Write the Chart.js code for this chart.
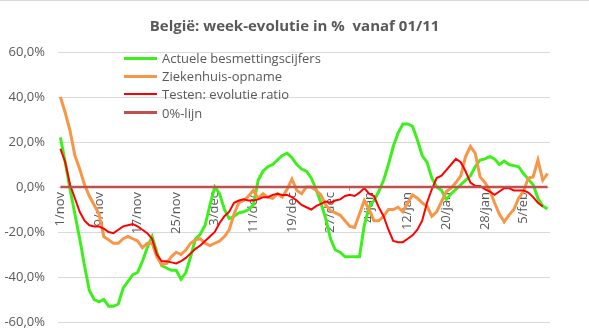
<!DOCTYPE html>
<html>
<head>
<meta charset="utf-8">
<script src="https://cdn.jsdelivr.net/npm/chart.js@4.4.1/dist/chart.umd.min.js"></script>
<style>
  html, body { margin: 0; padding: 0; background: #fff; }
  #wrap { position: relative; width: 589px; height: 332px; }
  #topline { position: absolute; left: 0; top: 0; width: 589px; height: 1px; background: #d9d9d9; }
  #legend { position: absolute; left: 124px; top: 49px; font-family: "Open Sans"; font-size: 13px; color: #595959; }
  .item { height: 18.2px; display: flex; align-items: center; white-space: nowrap; }
  .swatch { width: 33px; margin-right: 5px; }
</style>
</head>
<body>
<div id="wrap">
  <canvas id="myChart" width="589" height="332"></canvas>
  <div id="topline"></div>
  <div id="legend"></div>
</div>
<script>
// dagen van 1/nov tot 10/feb
const months = [['nov', 30], ['dec', 31], ['jan', 31], ['feb', 10]];
const days = [];
months.forEach(([m, n]) => { for (let d = 1; d <= n; d++) days.push(d + '/' + m); });

// week-evolutie in %
const besmettingen = [22, 11, -1, -12, -23, -35, -46, -50, -51, -50,
  -53, -53, -52, -45, -42, -39, -38, -33, -27, -22,
  -29, -35, -36, -37, -37, -41, -38, -31, -23, -21,
  -17, -8, 0, -3, -10, -14, -13, -11.5, -11, -10,
  -8, 3, 7, 9, 10, 12, 14, 15, 13, 10,
  8, 7, 4, -1, -7, -14, -23, -28, -29, -31,
  -31, -31, -31, -17, -9, -6, -2, 3, 10, 18,
  24, 28, 28, 27, 21, 14, 11, 4, 0, -1.5,
  -5.5, -3, -1, 1, 3, 5, 9, 12, 12.5, 13.5,
  12.5, 10, 11.5, 10, 9.5, 9, 6, 3.5, 1, -5,
  -8.5, -9.7];

const ziekenhuis = [40, 33, 25, 14, 8, 1, -4, -8, -12, -22,
  -23.5, -25, -25, -23, -22, -23, -24, -27, -25, -25,
  -31, -34.5, -34, -31, -29, -30, -28, -25, -23.5, -23,
  -25, -26, -25, -24, -22, -19, -12, -7, -6, -4,
  -1.5, -5, -3, -4.5, -5, -3, -4.5, -1, 3.5, -1.5,
  -3, 0, 0, -1.5, -3.5, -8, -10.5, -11.5, -12.5, -15,
  -17.5, -18, -12, -6, -10, -15, -15, -13, -10, -10,
  -9, -11, -7, -3.5, -5, -7, -8.5, -13, -11, -6.5,
  -2, -0.5, 2, 5, 13.5, 18, 15, 4.5, 2, -1.5,
  -7, -12, -15.5, -12.5, -10, -5, -2, 4, 4.5, 12,
  3, 6];

const testen = [17, 11, 1, -5, -11, -15, -17, -17.5, -17.5, -18.5,
  -20, -20.5, -19, -17.5, -17, -16.5, -17.5, -19, -20.5, -23,
  -30, -33, -33, -33.5, -34, -33, -31.5, -29.5, -27.5, -26,
  -24, -22, -20, -16, -13, -11, -7, -6, -5.5, -6,
  -6, -5.5, -4.5, -4.5, -3.5, -3, -3.5, -3.5, -4.5, -6,
  -8, -9, -10, -8.5, -7.5, -6.5, -7, -6, -5.5, -4,
  -3.5, -4, -2.5, -0.5, -3, -4, -9, -13, -19, -24,
  -24.5, -24.5, -23, -21.5, -19, -15, -7, -1, 4, 5,
  7.5, 10, 12.5, 11, 7, 2, 0.5, 0.5, -1, -2,
  -3.5, -2, -0.5, -0.5, -1.5, -1.5, -1.5, -2.5, -4.5, -7,
  -8.7, null];

const nullijn = days.map(() => 0);

const yMin = -60, yMax = 60, yStep = 20;

const textColor = '#595959';
const fontFamily = '"Open Sans", sans-serif';

const ctx = document.getElementById('myChart').getContext('2d');
const chart = new Chart(ctx, {
  type: 'line',
  data: {
    labels: days,
    datasets: [
      { label: 'Actuele besmettingscijfers', data: besmettingen, borderColor: '#3DF01C', borderWidth: 3, order: 3 },
      { label: 'Ziekenhuis-opname', data: ziekenhuis, borderColor: '#F79646', borderWidth: 3, order: 2 },
      { label: 'Testen: evolutie ratio', data: testen, borderColor: '#FF0000', borderWidth: 2, order: 1 },
      { label: '0%-lijn', data: nullijn, borderColor: '#C0504D', borderWidth: 2.5, order: 0 }
    ]
  },
  options: {
    responsive: false,
    animation: false,
    events: [],
    elements: { point: { radius: 0 }, line: { tension: 0 } },
    layout: { padding: { left: 0, right: 0, top: 0, bottom: 10 } },
    plugins: {
      legend: { display: false },
      tooltip: { enabled: false },
      title: {
        display: true,
        text: 'België: week-evolutie in %  vanaf 01/11',
        color: textColor,
        font: { family: fontFamily, size: 15, weight: 'bold' },
        padding: { top: 18, bottom: 16 }
      }
    },
    scales: {
      x: {
        position: { y: 0 },
        offset: true,
        border: { display: false },
        grid: {
          offset: true,
          drawOnChartArea: false,
          tickLength: 4,
          color: (c) => c.index % 8 === 0 ? '#a6a6a6' : 'rgba(0,0,0,0)'
        },
        ticks: {
          autoSkip: false,
          minRotation: 90,
          maxRotation: 90,
          padding: 1,
          color: textColor,
          font: { family: fontFamily, size: 13 },
          callback: function (v, i) { return i % 8 === 0 ? this.getLabelForValue(v) : null; }
        },
        afterFit: (s) => { s.height = 0; }
      },
      y: {
        min: yMin,
        max: yMax,
        border: { display: false },
        grid: { color: '#d9d9d9', drawTicks: false },
        ticks: {
          stepSize: yStep,
          padding: 13,
          color: textColor,
          font: { family: fontFamily, size: 13 },
          callback: (v) => v.toFixed(1).replace('.', ',') + '%'
        },
        afterFit: (s) => { s.width = 58; s.paddingTop = 0; s.paddingBottom = 0; }
      },
      // lege as rechts: houdt ruimte vrij zodat de titel over de hele breedte centreert
      rechts: {
        position: 'right',
        min: yMin,
        max: yMax,
        border: { display: false },
        grid: { display: false },
        ticks: { display: false },
        afterFit: (s) => { s.width = 39; s.paddingTop = 0; s.paddingBottom = 0; }
      }
    }
  }
});

// legenda in het grafiekvlak
const legend = document.getElementById('legend');
chart.data.datasets.forEach((ds) => {
  const item = document.createElement('div');
  item.className = 'item';
  const sw = document.createElement('span');
  sw.className = 'swatch';
  sw.style.height = ds.borderWidth + 'px';
  sw.style.background = ds.borderColor;
  const txt = document.createElement('span');
  txt.textContent = ds.label;
  item.appendChild(sw);
  item.appendChild(txt);
  legend.appendChild(item);
});
</script>
</body>
</html>
